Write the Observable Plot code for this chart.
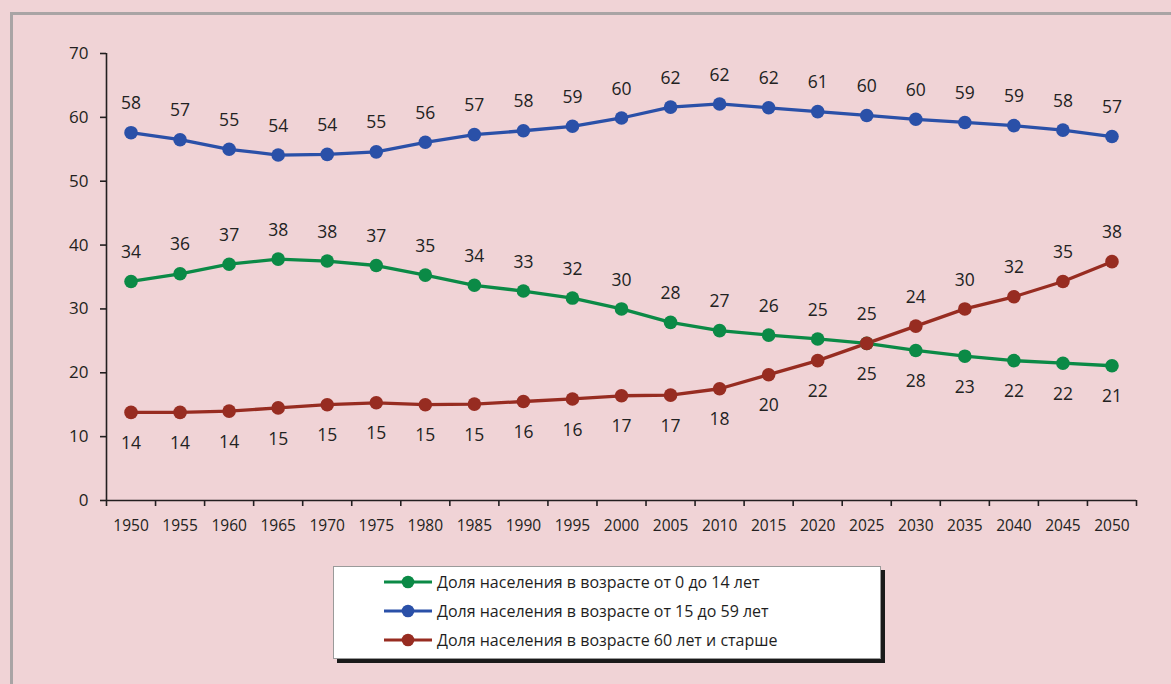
<!DOCTYPE html>
<html>
<head>
<meta charset="utf-8">
<script src="https://cdn.jsdelivr.net/npm/d3@7"></script>
<script src="https://cdn.jsdelivr.net/npm/@observablehq/plot@0.6"></script>
<style>
  html, body { margin: 0; padding: 0; background: #f0d3d6; overflow: hidden; }
  body { width: 1171px; height: 684px; position: relative; font-family: "Open Sans", sans-serif; }
  #frame { position: absolute; left: 10px; top: 12px; width: 1300px; height: 800px;
           border-left: 3px solid #a9a4a5; border-top: 3px solid #a9a4a5; pointer-events: none; }
  #chart { position: absolute; left: 0; top: 0; }
  #legend { position: absolute; left: 333px; top: 566px; width: 548px; height: 93px;
            background: #fff; border: 1px solid #9a9a9a;
            box-shadow: 4px 4px 0 #1a1a1a; box-sizing: border-box; }
  .item { position: absolute; left: 50px; height: 20px; display: flex; align-items: center;
          font-size: 16px; color: #1e1e1e; white-space: nowrap; }
  .item svg { margin-right: 5px; }
</style>
</head>
<body>
<div id="frame"></div>
<div id="chart"></div>
<div id="legend"></div>
<script>
const years = [1950,1955,1960,1965,1970,1975,1980,1985,1990,1995,2000,2005,2010,2015,2020,2025,2030,2035,2040,2045,2050];

const young  = [34.3,35.5,37.0,37.8,37.5,36.8,35.3,33.7,32.8,31.7,30.0,27.9,26.6,25.9,25.3,24.6,23.5,22.6,21.9,21.5,21.1];
const adult  = [57.6,56.5,55.0,54.1,54.2,54.6,56.1,57.3,57.9,58.6,59.9,61.6,62.1,61.5,60.9,60.3,59.7,59.2,58.7,58.0,57.0];
const senior = [13.8,13.8,14.0,14.5,15.0,15.3,15.0,15.1,15.5,15.9,16.4,16.5,17.5,19.7,21.9,24.6,27.3,30.0,31.9,34.3,37.4];

const youngLabels  = ["34","36","37","38","38","37","35","34","33","32","30","28","27","26","25","25","28","23","22","22","21"];
const adultLabels  = ["58","57","55","54","54","55","56","57","58","59","60","62","62","62","61","60","60","59","59","58","57"];
const seniorLabels = ["14","14","14","15","15","15","15","15","16","16","17","17","18","20","22","25","24","30","32","35","38"];

const seriesNames = [
  "Доля населения в возрасте от 0 до 14 лет",
  "Доля населения в возрасте от 15 до 59 лет",
  "Доля населения в возрасте 60 лет и старше"
];
const colors = ["#0b8a46", "#2a50a8", "#972c21"];
const yTicks = [0,10,20,30,40,50,60,70];

const switchYear = 2025; // labels of green go below, red go above from this year

const mk = (vals, labs, s) => years.map((y, i) => ({year: y, v: vals[i], label: labs[i], s}));
const dYoung = mk(young, youngLabels, 0);
const dAdult = mk(adult, adultLabels, 1);
const dSenior = mk(senior, seniorLabels, 2);

const above = [
  ...dAdult,
  ...dYoung.filter(d => d.year < switchYear),
  ...dSenior.filter(d => d.year >= switchYear)
];
const below = [
  ...dYoung.filter(d => d.year >= switchYear),
  ...dSenior.filter(d => d.year < switchYear)
];

const step = years[1] - years[0];
const x0 = years[0] - step / 2, x1 = years[years.length - 1] + step / 2;
const bounds = [...years.map(y => y - step / 2), x1];

const axisColor = "#231f20";

const chart = Plot.plot({
  width: 1171,
  height: 548,
  marginTop: 53,
  marginBottom: 48,
  marginLeft: 106,
  marginRight: 35,
  style: {background: "transparent", fontFamily: "Open Sans, sans-serif", color: axisColor},
  x: {domain: [x0, x1]},
  y: {domain: [0, 70]},
  marks: [
    Plot.axisY({ticks: yTicks, tickSize: 6, tickPadding: 12, fontSize: 17, stroke: axisColor, strokeWidth: 1.6, label: null}),
    Plot.axisX({ticks: bounds, tickSize: 6, tickFormat: () => "", stroke: axisColor, strokeWidth: 1.6, label: null}),
    Plot.axisX({ticks: years, tickSize: 0, tickPadding: 19, tickFormat: d => String(d), fontSize: 15.5, label: null}),
    Plot.ruleX([x0], {y1: 0, y2: 70, stroke: axisColor, strokeWidth: 1.6}),
    Plot.ruleY([0], {x1: x0, x2: x1, stroke: axisColor, strokeWidth: 1.6}),
    Plot.line(dYoung, {x: "year", y: "v", stroke: colors[0], strokeWidth: 3.3}),
    Plot.line(dAdult, {x: "year", y: "v", stroke: colors[1], strokeWidth: 3.3}),
    Plot.line(dSenior, {x: "year", y: "v", stroke: colors[2], strokeWidth: 3.3}),
    Plot.dot(dYoung, {x: "year", y: "v", r: 6.8, fill: colors[0]}),
    Plot.dot(dAdult, {x: "year", y: "v", r: 6.8, fill: colors[1]}),
    Plot.dot(dSenior, {x: "year", y: "v", r: 6.8, fill: colors[2]}),
    Plot.text(above, {x: "year", y: "v", text: "label", dy: -29, fontSize: 17.5, fill: "#222"}),
    Plot.text(below, {x: "year", y: "v", text: "label", dy: 31, fontSize: 17.5, fill: "#222"})
  ]
});
document.getElementById("chart").appendChild(chart);

const legend = document.getElementById("legend");
seriesNames.forEach((name, i) => {
  const item = document.createElement("div");
  item.className = "item";
  item.style.top = (5 + i * 29) + "px";
  item.innerHTML = `<svg width="48" height="14"><line x1="0" y1="7" x2="48" y2="7" stroke="${colors[i]}" stroke-width="3"/><circle cx="24" cy="7" r="6.3" fill="${colors[i]}"/></svg><span>${name}</span>`;
  legend.appendChild(item);
});
</script>
</body>
</html>
